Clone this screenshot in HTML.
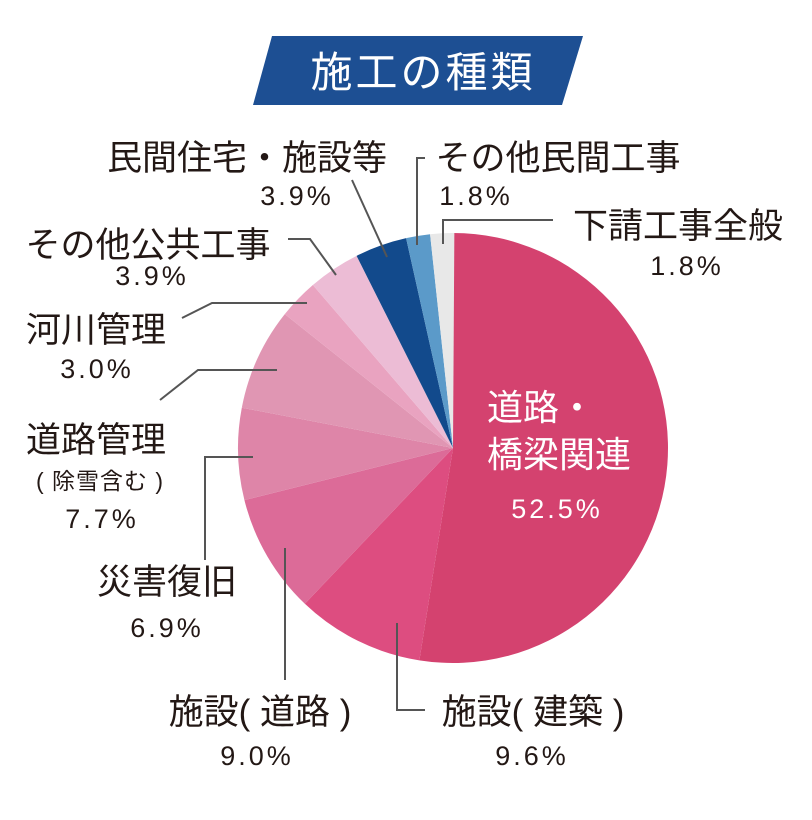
<!DOCTYPE html>
<html><head><meta charset="utf-8"><style>
body{margin:0;background:#fff}
svg text{font-family:"Liberation Sans","Noto Sans CJK JP",sans-serif;fill:#231815}
</style></head><body>
<svg id="s" width="812" height="815" viewBox="0 0 812 815" xmlns="http://www.w3.org/2000/svg">
<polygon points="272,36 583,36 562,105 253,105" fill="#1d4f93"/>
<text x="423" y="87" font-size="42" text-anchor="middle" style="fill:#fff" letter-spacing="3">施工の種類</text>
<g id="pie"></g>
<g stroke="#555" stroke-width="2" fill="none">
<polyline points="288,239 310,239 336,275"/>
<polyline points="182,318 212,303 307,303"/>
<polyline points="160,400 198,370 277,370"/>
<polyline points="205,560 205,457 253,457"/>
<polyline points="285,548 285,680"/>
<polyline points="397,623 397,710 425,710"/>
<polyline points="352,180 387,257"/>
<polyline points="425,158 417,158 417,245"/>
<polyline points="553,220 443,220 443,244"/>
</g>
<g font-size="35" text-anchor="middle">
<text x="247" y="170">民間住宅・施設等</text>
<text x="558" y="170">その他民間工事</text>
<text x="678" y="238">下請工事全般</text>
<text x="148" y="257">その他公共工事</text>
<text x="96" y="342">河川管理</text>
<text x="96" y="452">道路管理</text>
<text x="167" y="594">災害復旧</text>
<text x="260" y="724">施設( 道路 )</text>
<text x="533" y="724">施設( 建築 )</text>
</g>
<g font-size="36">
<text x="487" y="420" style="fill:#fff">道路・</text>
<text x="487" y="467" style="fill:#fff">橋梁関連</text>
</g>
<g font-size="27" text-anchor="middle" letter-spacing="3">
<text x="100" y="489" font-size="23" letter-spacing="1">( 除雪含む )</text>
<text x="297" y="205">3.9%</text>
<text x="476" y="205">1.8%</text>
<text x="687" y="275">1.8%</text>
<text x="152" y="285">3.9%</text>
<text x="97" y="378">3.0%</text>
<text x="102" y="528">7.7%</text>
<text x="167" y="637">6.9%</text>
<text x="257" y="765">9.0%</text>
<text x="532" y="765">9.6%</text>
<text x="557" y="518" style="fill:#fff">52.5%</text>
</g>
</svg>
<script>
var d=[[52.5,"#d4426f"],[9.6,"#dd4d80"],[9.0,"#dc6b98"],[6.9,"#de85a8"],[7.7,"#e096b3"],[3.0,"#e9a3c0"],[3.9,"#ecbcd5"],[3.9,"#124a8c"],[1.8,"#5b9ac9"],[1.8,"#e8e8e8"]];
var cx=453,cy=448,r=215,a=0,g=document.getElementById("pie"),h="";
d.forEach(function(s){var a1=a+s[0]/100*2*Math.PI;
var x0=cx+r*Math.sin(a),y0=cy-r*Math.cos(a),x1=cx+r*Math.sin(a1),y1=cy-r*Math.cos(a1);
h+='<path d="M'+cx+','+cy+'L'+x0+','+y0+'A'+r+','+r+' 0 '+(a1-a>Math.PI?1:0)+' 1 '+x1+','+y1+'Z" fill="'+s[1]+'"/>';a=a1;});
g.innerHTML=h;
</script>
</body></html>
